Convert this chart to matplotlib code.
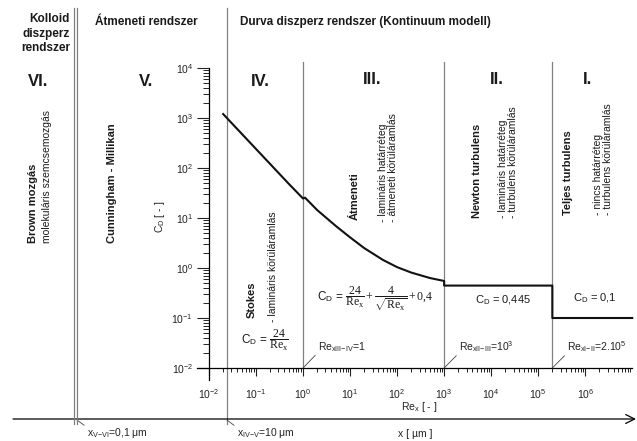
import matplotlib
matplotlib.use("Agg")
import matplotlib.pyplot as plt
from matplotlib.lines import Line2D
from matplotlib.ticker import LogLocator

plt.rcParams['font.family'] = ['Liberation Sans', 'DejaVu Sans']
plt.rcParams['mathtext.fontset'] = 'custom'
plt.rcParams['mathtext.rm'] = 'Liberation Serif'
plt.rcParams['mathtext.it'] = 'Liberation Serif:italic'
plt.rcParams['mathtext.bf'] = 'Liberation Serif:bold'

# drag coefficient curve (regions IV and III)
re_curve = [0.02, 0.05, 0.1, 0.2, 0.5, 1.0, 1.1, 2, 5, 10, 20, 50, 100, 200, 500, 1000]
cd_curve = [1200, 480, 240, 120, 48, 24.5, 25.5, 14.4, 6.9, 4.1, 2.5, 1.45, 1.04, 0.81, 0.63, 0.55]
# constant parts (regions II and I)
re_newton = [1000, 2e5]
cd_newton = 0.445
re_full = [2e5, 1e7]
cd_full = 0.1

# region boundaries on the Re axis
re_bounds = [1, 1e3, 2e5]
re_bound_labels = [r"Re$_\mathdefault{xIII\mathdefault{-}IV}$=1",
                   r"Re$_\mathdefault{xII\mathdefault{-}III}$=10$^\mathdefault{3}$",
                   r"Re$_\mathdefault{xI\mathdefault{-}II}$=2.10$^\mathdefault{5}$"]
re_iv_v = 0.024  # x = 10 um

W, H = 637, 441
fig = plt.figure(figsize=(6.37, 4.41), dpi=100)


def fx(x):
    return x / W


def fy(y):
    return 1 - y / H


ax = fig.add_axes([fx(209), fy(368), fx(632) - fx(209), fy(68) - fy(368)])
ax.set_xscale('log')
ax.set_yscale('log')
ax.set_xlim(1e-2, 10 ** 6.995)
ax.set_ylim(1e-2, 1e4)
for s in ['top', 'right']:
    ax.spines[s].set_visible(False)
for s in ['left', 'bottom']:
    ax.spines[s].set_linewidth(0.9)
ax.patch.set_alpha(0)

ax.xaxis.set_major_locator(LogLocator(base=10, numticks=30))
ax.xaxis.set_minor_locator(LogLocator(base=10, subs=range(2, 10), numticks=30))
ax.yaxis.set_major_locator(LogLocator(base=10, numticks=30))
ax.yaxis.set_minor_locator(LogLocator(base=10, subs=range(2, 10), numticks=30))
ax.tick_params(axis='y', which='major', length=8.5, width=0.8, labelsize=7.5, pad=3, colors='#222222')
ax.tick_params(axis='y', which='minor', length=4.3, width=0.6)
ax.tick_params(axis='x', which='major', length=5.5, width=0.8, labelsize=7.5, pad=8, colors='#222222')
ax.tick_params(axis='x', which='minor', length=3, width=0.6)

# crossing spine ends
ax.plot([0, 0], [0, -12 / 300], transform=ax.transAxes, clip_on=False, color='k', lw=0.9)
ax.plot([-12 / 423, 0], [0, 0], transform=ax.transAxes, clip_on=False, color='k', lw=0.9)

ax.set_xlabel(r"Re$_\mathdefault{x}$ [ - ]", fontsize=7.5, color='#222222')
ax.xaxis.set_label_coords((419 - 209) / 423, -(407 - 368) / 300)
ax.xaxis.label.set_va('center')
ax.set_ylabel(r"C$_\mathdefault{D}$ [ - ]", fontsize=7.5, color='#222222')
ax.yaxis.set_label_coords((160 - 209) / 423, (368 - 217) / 300)
ax.yaxis.label.set_va('center')

# curve
ax.plot(re_curve + [re_newton[0]] + [re_newton[1], re_full[0], re_full[1]],
        cd_curve + [cd_newton, cd_newton, cd_full, cd_full],
        color='#111111', lw=1.5, clip_on=False, zorder=5)

gray = '#808080'
for b in re_bounds:
    ax.axvline(b, ymin=0, ymax=(368 - 62) / 300, color=gray, lw=0.9, clip_on=False)
ax.axvline(re_iv_v, ymin=(368 - 424) / 300, ymax=(368 - 8) / 300, color=gray, lw=0.9, clip_on=False)
for xx in [74, 77]:
    fig.add_artist(Line2D([fx(xx), fx(xx)], [fy(8), fy(424)], color=gray, lw=0.9))

# bottom x arrow
ax.annotate('', xy=(fx(636), fy(419)), xytext=(fx(13), fy(419)), xycoords='figure fraction',
            textcoords='figure fraction',
            arrowprops=dict(arrowstyle='->', lw=0.9, color='k', mutation_scale=16, shrinkA=0, shrinkB=0))
fig.text(fx(415), fy(434), u"x [ \u00b5m ]", fontsize=7.5, ha='center', va='center', color='#222222')

# Re boundary labels
for b, lab in zip(re_bounds, re_bound_labels):
    ax.annotate(lab, xy=(b, 1e-2), xytext=(15, 21), textcoords='offset pixels',
                fontsize=7.5, ha='left', va='center', color='#222222',
                arrowprops=dict(arrowstyle='-', lw=0.6, color='#444444', shrinkA=0, shrinkB=0,
                                relpos=(0, 0.1)))

# x boundary labels
ax.annotate(r"x$_\mathdefault{IV\mathdefault{-}V}$=10 $\mathdefault{\mu}$m", xy=(re_iv_v, fy(420)),
            xycoords=('data', 'figure fraction'), xytext=(10, -13), textcoords='offset pixels',
            fontsize=7.5, ha='left', va='center', color='#222222', annotation_clip=False,
            arrowprops=dict(arrowstyle='-', lw=0.6, color='#444444', shrinkA=0, shrinkB=0, relpos=(0, 0.9)))
ax.annotate(r"x$_\mathdefault{V\mathdefault{-}VI}$=0,1 $\mathdefault{\mu}$m", xy=(fx(77), fy(420)),
            xycoords='figure fraction', xytext=(10, -13), textcoords='offset pixels',
            fontsize=7.5, ha='left', va='center', color='#222222',
            arrowprops=dict(arrowstyle='-', lw=0.6, color='#444444', shrinkA=0, shrinkB=0, relpos=(0, 0.9)))

# headers
tc = '#1a1a1a'
fig.text(fx(70), fy(13), "Kolloid\ndiszperz\nrendszer", fontsize=8.5, fontweight='bold',
         ha='right', va='top', multialignment='right', color=tc, linespacing=1.3)
fig.text(fx(95), fy(22), u"\u00c1tmeneti rendszer", fontsize=8.5, fontweight='bold', ha='left', va='center', color=tc)
fig.text(fx(240), fy(22), "Durva diszperz rendszer (Kontinuum modell)", fontsize=8.5, fontweight='bold',
         ha='left', va='center', color=tc)

for lab, xx, yy in [("VI.", 38, 82), ("V.", 146, 82), ("IV.", 260, 81), ("III.", 372, 79),
                    ("II.", 497, 79), ("I.", 588, 79)]:
    fig.text(fx(xx), fy(yy), lab, fontsize=12, fontweight='bold', ha='center', va='center', color=tc)


# rotated descriptions
def rot(x, y, s, bold=False, size=7.5):
    fig.text(fx(x), fy(y), s, rotation=90, ha='center', va='bottom', fontsize=size,
             fontweight='bold' if bold else 'normal', multialignment='left', color=tc,
             linespacing=1.05)


rot(33, 243, u"Brown mozg\u00e1s", True, 8)
rot(47, 243, u"molekul\u00e1ris szemcsemozg\u00e1s")
rot(112, 243, "Cunningham - Millikan", True, 8)
rot(252, 318, "Stokes", True, 8)
rot(273, 322, u"- lamin\u00e1ris k\u00f6r\u00fcl\u00e1raml\u00e1s")
rot(355, 220, u"\u00c1tmeneti", True, 8)
rot(388, 222, u"- lamin\u00e1ris hat\u00e1rr\u00e9teg\n- \u00e1tmeneti k\u00f6r\u00fcl\u00e1raml\u00e1s")
rot(477, 218, "Newton turbulens", True, 8)
rot(508, 218, u"- lamin\u00e1ris hat\u00e1rr\u00e9teg\n- turbulens k\u00f6r\u00fcl\u00e1raml\u00e1s")
rot(568, 215, "Teljes turbulens", True, 8)
rot(603, 215, u"- nincs hat\u00e1rr\u00e9teg\n- turbulens k\u00f6r\u00fcl\u00e1raml\u00e1s")

# formulas
fig.text(fx(265), fy(340), r"C$_\mathdefault{D}$ = $\dfrac{24}{\mathrm{Re_x}}$", fontsize=8.5,
         ha='center', va='center', color=tc)
fig.text(fx(375), fy(299),
         r"C$_\mathdefault{D}$ = $\dfrac{24}{\mathrm{Re_x}}+\dfrac{4}{\sqrt{\mathrm{Re_x}}}+0{,}4$",
         fontsize=8.5, ha='center', va='center', color=tc)
fig.text(fx(503), fy(300), r"C$_\mathdefault{D}$ = 0,445", fontsize=8, ha='center', va='center', color=tc)
fig.text(fx(595), fy(297), r"C$_\mathdefault{D}$ = 0,1", fontsize=8, ha='center', va='center', color=tc)

fig.savefig("out.png", dpi=100)
